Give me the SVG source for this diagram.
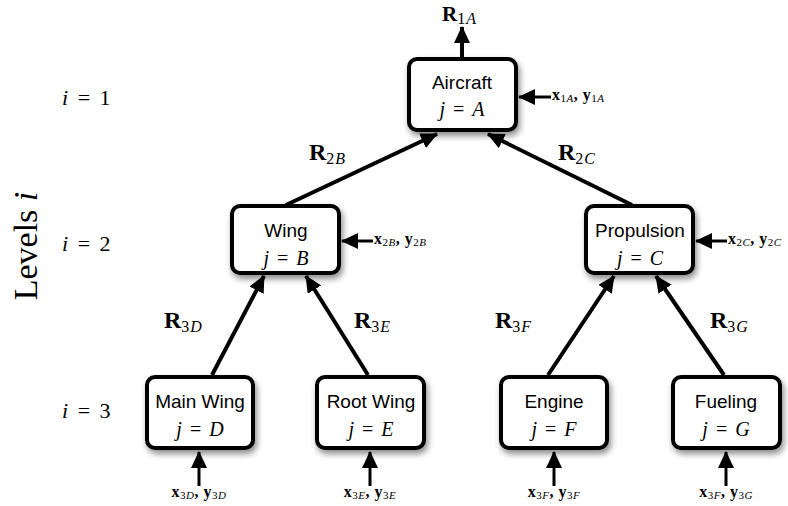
<svg xmlns="http://www.w3.org/2000/svg" width="788" height="506" viewBox="0 0 788 506">
<defs>
<filter id="sh" x="-20%" y="-20%" width="150%" height="160%">
<feDropShadow dx="2" dy="4" stdDeviation="3" flood-color="#000" flood-opacity="0.45"/>
</filter>
<marker id="ah" markerUnits="userSpaceOnUse" markerWidth="20" markerHeight="16" refX="16" refY="8" orient="auto">
<path d="M0,0 L17,8 L0,16 Z" fill="#000"/>
</marker>
</defs>
<style>
.box{fill:#fff;stroke:#000;stroke-width:4;filter:url(#sh)}
.nm{font-family:"Liberation Sans",Arial,sans-serif;font-size:19px;text-anchor:middle}
.jm{font-family:"Liberation Serif","DejaVu Serif",serif;font-size:20px;text-anchor:middle;word-spacing:3px}
.it{font-style:italic}
.con{stroke:#000;stroke-width:4;fill:none;marker-end:url(#ah)}
.inp{stroke:#000;stroke-width:3;fill:none;marker-end:url(#ah)}
.R{font-family:"Liberation Serif","DejaVu Serif",serif;font-size:24px;font-weight:bold}
.R1{font-size:21px}
.sub{font-size:16px;font-weight:normal;letter-spacing:1px}
.xy{font-family:"Liberation Serif","DejaVu Serif",serif;font-size:16px;font-weight:bold;letter-spacing:0.5px}
.xs{font-size:11px;font-weight:normal}
.lv{font-family:"Liberation Serif","DejaVu Serif",serif;font-size:22px;word-spacing:4px}
.lvt{font-family:"Liberation Serif","DejaVu Serif",serif;font-size:34px;text-anchor:middle}
</style>

<g id="levels">
<text class="lv" x="62" y="105"><tspan class="it">i</tspan> = 1</text>
<text class="lv" x="62" y="251"><tspan class="it">i</tspan> = 2</text>
<text class="lv" x="62" y="418"><tspan class="it">i</tspan> = 3</text>
<text class="lvt" transform="translate(37,246) rotate(-90)">Levels <tspan class="it">i</tspan></text>
</g>

<g id="connectors">
<line class="con" x1="462" y1="57" x2="462" y2="27"/>
<line class="con" x1="286" y1="205" x2="437" y2="134"/>
<line class="con" x1="632" y1="205" x2="488" y2="134"/>
<line class="con" x1="212" y1="375" x2="264" y2="276"/>
<line class="con" x1="368" y1="375" x2="306" y2="276"/>
<line class="con" x1="548" y1="375" x2="614" y2="276"/>
<line class="con" x1="724" y1="375" x2="656" y2="276"/>
<line class="inp" x1="551" y1="97" x2="519" y2="97"/>
<line class="inp" x1="373" y1="241" x2="342" y2="241"/>
<line class="inp" x1="727" y1="241" x2="696" y2="241"/>
<line class="inp" x1="199" y1="486" x2="199" y2="452"/>
<line class="inp" x1="370" y1="486" x2="370" y2="452"/>
<line class="inp" x1="554" y1="486" x2="554" y2="452"/>
<line class="inp" x1="726" y1="486" x2="726" y2="452"/>
</g>

<g id="conn-labels">
<text class="R R1" x="442" y="21">R<tspan class="sub" dy="3">1<tspan class="it">A</tspan></tspan></text>
<text class="R" x="309" y="160">R<tspan class="sub" dy="4">2<tspan class="it">B</tspan></tspan></text>
<text class="R" x="558" y="160">R<tspan class="sub" dy="4">2<tspan class="it">C</tspan></tspan></text>
<text class="R" x="164" y="328">R<tspan class="sub" dy="4">3<tspan class="it">D</tspan></tspan></text>
<text class="R" x="354" y="328">R<tspan class="sub" dy="4">3<tspan class="it">E</tspan></tspan></text>
<text class="R" x="495" y="328">R<tspan class="sub" dy="4">3<tspan class="it">F</tspan></tspan></text>
<text class="R" x="710" y="328">R<tspan class="sub" dy="4">3<tspan class="it">G</tspan></tspan></text>
<text class="xy" x="552" y="100">x<tspan class="xs" dy="2">1<tspan class="it">A</tspan></tspan><tspan dy="-2">, y</tspan><tspan class="xs" dy="2">1<tspan class="it">A</tspan></tspan></text>
<text class="xy" x="374" y="244">x<tspan class="xs" dy="2">2<tspan class="it">B</tspan></tspan><tspan dy="-2">, y</tspan><tspan class="xs" dy="2">2<tspan class="it">B</tspan></tspan></text>
<text class="xy" x="728" y="244">x<tspan class="xs" dy="2">2<tspan class="it">C</tspan></tspan><tspan dy="-2">, y</tspan><tspan class="xs" dy="2">2<tspan class="it">C</tspan></tspan></text>
<text class="xy" x="199" y="497" text-anchor="middle">x<tspan class="xs" dy="2">3<tspan class="it">D</tspan></tspan><tspan dy="-2">, y</tspan><tspan class="xs" dy="2">3<tspan class="it">D</tspan></tspan></text>
<text class="xy" x="370" y="497" text-anchor="middle">x<tspan class="xs" dy="2">3<tspan class="it">E</tspan></tspan><tspan dy="-2">, y</tspan><tspan class="xs" dy="2">3<tspan class="it">E</tspan></tspan></text>
<text class="xy" x="554" y="497" text-anchor="middle">x<tspan class="xs" dy="2">3<tspan class="it">F</tspan></tspan><tspan dy="-2">, y</tspan><tspan class="xs" dy="2">3<tspan class="it">F</tspan></tspan></text>
<text class="xy" x="726" y="497" text-anchor="middle">x<tspan class="xs" dy="2">3<tspan class="it">F</tspan></tspan><tspan dy="-2">, y</tspan><tspan class="xs" dy="2">3<tspan class="it">G</tspan></tspan></text>
</g>

<g id="aircraft">
<rect class="box" x="409" y="59" width="107" height="71" rx="8"/>
<text class="nm" x="462" y="89">Aircraft</text>
<text class="jm" x="462" y="116"><tspan class="it">j</tspan> = <tspan class="it">A</tspan></text>
</g>
<g id="wing">
<rect class="box" x="232" y="206" width="107" height="67" rx="8"/>
<text class="nm" x="286" y="237">Wing</text>
<text class="jm" x="286" y="265"><tspan class="it">j</tspan> = <tspan class="it">B</tspan></text>
</g>
<g id="propulsion">
<rect class="box" x="586" y="206" width="107" height="67" rx="8"/>
<text class="nm" x="640" y="237">Propulsion</text>
<text class="jm" x="640" y="265"><tspan class="it">j</tspan> = <tspan class="it">C</tspan></text>
</g>
<g id="mainwing">
<rect class="box" x="147" y="377" width="106" height="71" rx="8"/>
<text class="nm" x="200" y="408">Main Wing</text>
<text class="jm" x="200" y="436"><tspan class="it">j</tspan> = <tspan class="it">D</tspan></text>
</g>
<g id="rootwing">
<rect class="box" x="317" y="377" width="107" height="71" rx="8"/>
<text class="nm" x="371" y="408">Root Wing</text>
<text class="jm" x="371" y="436"><tspan class="it">j</tspan> = <tspan class="it">E</tspan></text>
</g>
<g id="engine">
<rect class="box" x="501" y="377" width="106" height="71" rx="8"/>
<text class="nm" x="554" y="408">Engine</text>
<text class="jm" x="554" y="436"><tspan class="it">j</tspan> = <tspan class="it">F</tspan></text>
</g>
<g id="fueling">
<rect class="box" x="673" y="377" width="107" height="71" rx="8"/>
<text class="nm" x="726" y="408">Fueling</text>
<text class="jm" x="726" y="436"><tspan class="it">j</tspan> = <tspan class="it">G</tspan></text>
</g>
</svg>
